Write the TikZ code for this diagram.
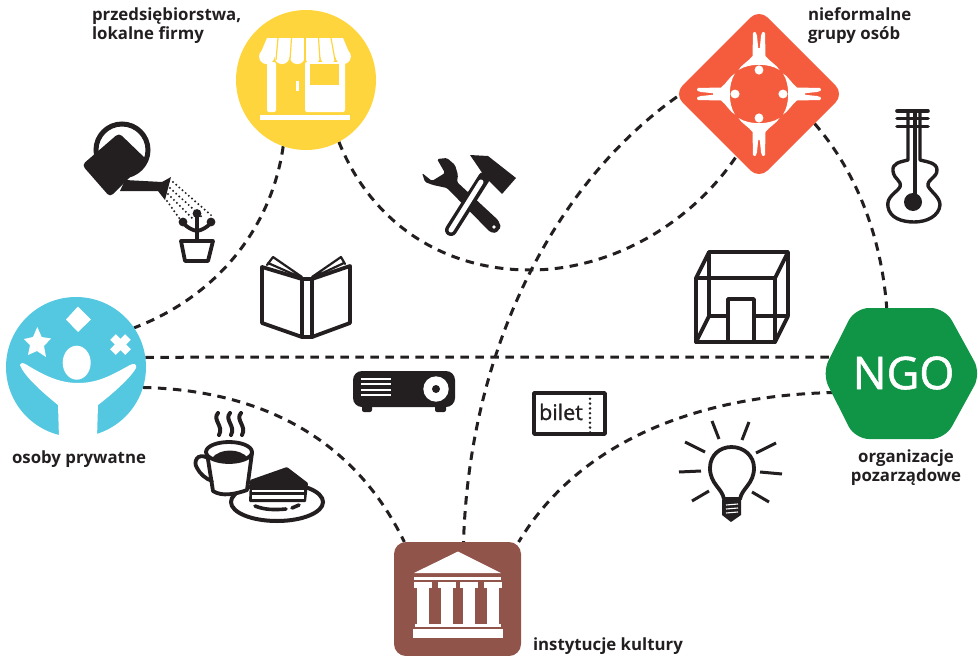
\documentclass[tikz,border=0pt]{standalone}
\usepackage{fontspec}
\setmainfont{Open Sans}
\usetikzlibrary{shapes.geometric}
\pgfdeclarelayer{links}
\pgfsetlayers{links,main}
\definecolor{ink}{HTML}{231F20}
\definecolor{cfirm}{HTML}{FFD53D}
\definecolor{cgrupy}{HTML}{F45C3D}
\definecolor{cosoby}{HTML}{55C8E1}
\definecolor{cngo}{HTML}{109445}
\definecolor{ckult}{HTML}{91544A}
\tikzset{
  hub/.style={inner sep=0,outer sep=0,draw=none},
  link/.style={draw=ink,line width=3pt,dash pattern=on 8.5pt off 6.5pt},
  lbl/.style={font=\fontsize{16.8}{19}\selectfont\bfseries,text=ink,inner sep=0,outer sep=0},
  ic/.style={draw=ink,line width=3.8pt,line join=round,line cap=round},
  bk/.style={fill=ink,draw=none},
  wh/.style={fill=white,draw=none}
}
\begin{document}
\begin{tikzpicture}[x=1pt,y=-1pt]
\useasboundingbox (0,0) rectangle (978,656);
% hubs
\node[hub,circle,fill=cfirm,minimum size=140pt] (firm) at (306,80) {};
\node[hub,circle,fill=cosoby,minimum size=140pt] (osoby) at (76,367) {};
\node[hub,diamond,aspect=1,fill=cgrupy,rounded corners=12pt,minimum size=170pt] (grupy) at (759,94) {};
\node[hub,rectangle,fill=ckult,rounded corners=12pt,minimum width=127pt,minimum height=114pt] (kult) at (457.5,599) {};
\fill[cngo,rounded corners=14pt] (822,373.5) -- (855,308) -- (945,308) -- (981,373.5) -- (945,439) -- (855,439) -- cycle;
\coordinate (ngoN) at (887,312);
\coordinate (ngoA) at (835,357);
\coordinate (ngoB) at (835,392.5);
\node[inner sep=0,outer sep=0,text=white,font=\fontsize{45}{45}\selectfont\addfontfeature{FakeBold=1.2}] (ngo) at (903.5,373) {NGO};
% connectors
\begin{pgfonlayer}{links}
\draw[link] (firm.251) .. controls (272,225) and (220,295) .. (osoby.34);
\draw[link] (firm.298) .. controls (370,220) and (440,270) .. (530,270) .. controls (610,270) and (690,225) .. (grupy.250);
\draw[link] (grupy.182) .. controls (560,180) and (470,340) .. (kult.84.5);
\draw[link] (grupy.332) .. controls (855,170) and (882,235) .. (ngoN);
\draw[link] (osoby.8.2) -- (ngoA);
\draw[link] (osoby.-17) .. controls (250,390) and (350,430) .. (kult.133.7);
\draw[link] (ngoB) .. controls (700,395) and (580,440) .. (kult.43.3);
\end{pgfonlayer}
% shop icon
\fill[white] (267,38) -- (343,38) -- (351,57) -- (259,57) -- cycle;
\foreach \i in {0,...,5} {\fill[white] ({266.7+15.3*\i},56.5) circle[radius=7.6];}
\foreach \a/\b in {278/276,291.5/290,305/305,318.5/320,331/335} {\draw[cfirm,line width=1.2pt] (\a,38) -- (\b,60);}
\fill[white,rounded corners=2pt] (267,62) -- (276,62) -- (276,112) -- (267,112) -- cycle;
\fill[white,rounded corners=2pt] (305,62) -- (345,62) -- (345,112) -- (305,112) -- cycle;
\fill[cfirm] (310,64) rectangle (339,85);
\fill[white] (296,81) rectangle (299.3,91);
\fill[white] (260,115) rectangle (350,120);
% watering can
\draw[ink,line width=5pt] (122,150) circle[radius=26];
\fill[ink,rounded corners=4pt] (119,133) -- (147,160) -- (110,197) -- (82,165) -- cycle;
\fill[ink] (125,180) -- (162,182) -- (171,177) -- (165,200) -- (158,191) -- (120,191) -- cycle;
\foreach \a/\b/\c/\d in {173/182/212/216,170/188/203/218,168/194/194/220,167/201/182/222} {\draw[ink,line width=2.2pt,line cap=round,dash pattern=on 0pt off 4.2pt] (\a,\b) -- (\c,\d);}
% plant
\draw[ic] (181,241) -- (213,241) -- (208,261) -- (185,261) -- cycle;
\draw[ic] (197,213) -- (197,240);
\draw[ic] (183,223) .. controls (188,228) and (192,230) .. (197,231) .. controls (202,230) and (206,228) .. (211,223);
\fill[ink] (183,222) circle[radius=4.4] (197,213.5) circle[radius=4.4] (211,222) circle[radius=4.4];
% book
\draw[ic] (262,267) -- (302,279) -- (302,337) -- (262,323) -- cycle;
\draw[ic] (350,266) -- (312,279) -- (312,337) -- (350,323) -- cycle;
\draw[ic] (302,279) -- (312,279) (302,337) -- (312,337);
\draw[ic,line width=2.2pt] (267,265) -- (273,257) -- (302,277) (268,263) -- (302,278) (345,264) -- (341,257) -- (312,277) (344,263) -- (312,278);
% osoby icon
\fill[white] (20,365) .. controls (21,362) and (24,363) .. (27,365) .. controls (45,376) and (60,383) .. (78,383) .. controls (98,383) and (112,375) .. (130,365) .. controls (134,363) and (137,364) .. (136,368) .. controls (132,376) and (115,392) .. (98,405) -- (97,438) -- (59,438) -- (58,405) .. controls (42,392) and (24,376) .. (20,365) -- cycle;
\fill[white] (76.7,362.7) ellipse[x radius=14,y radius=17];
\fill[white] (78,306.5) -- (91,319.5) -- (78,332) -- (66,319.5) -- cycle;
\fill[white] (37.3,327) -- (41.7,337) -- (51,338.5) -- (44,346) -- (46,357) -- (37,351) -- (28,355) -- (30,345) -- (24,339) -- (33,337) -- cycle;
\draw[white,line width=8pt] (113,337) -- (128,352) (128,337) -- (113,352);
% coffee and cake
\draw[ink,line width=4pt,fill=white] (277,502) ellipse[x radius=46,y radius=19];
\draw[ink,line width=3.6pt,line cap=round] (255,506) .. controls (265,510) and (275,510) .. (286,509);
\draw[ink,line width=3.6pt,line cap=round] (292,508) -- (299,505);
\fill[ink,rounded corners=1pt] (250,480) -- (287,467) -- (308,483) -- (306,502) -- (249,502) -- cycle;
\fill[white] (252,489.5) rectangle (304,492);
\fill[white] (252,495) rectangle (304,499);
\draw[ink,line width=3.8pt,fill=white,line join=round] (207,453) -- (213,491) .. controls (222,497) and (236,494) .. (247,490) -- (252,453) -- cycle;
\draw[ink,line width=3.8pt,fill=white] (229,452) ellipse[x radius=23,y radius=10];
\fill[ink] (212,458) .. controls (220,448) and (240,448) .. (248,458) .. controls (240,462) and (220,462) .. (212,458) -- cycle;
\draw[ink,line width=3.8pt,line cap=round] (208,458) .. controls (197,452) and (193,462) .. (197,468) .. controls (200,474) and (206,479) .. (212,481);
\foreach \s in {218,230,241} {\draw[ink,line width=4pt,line cap=round] (\s,413) .. controls ({\s-6},420) and ({\s+6},426) .. ({\s+1},435);}
% tools
\fill[ink,rounded corners=1.5pt] (437,159) -- (445,173) -- (432,181) -- (422,173) -- (425,182) -- (433,185) -- (447,188) -- (490,232) -- (496,233) -- (501,227) -- (498,220) -- (457,182) -- (458,175) -- (455,165) -- (447,158) -- cycle;
\fill[white] (494,227) circle[radius=1.8];
\draw[ink,line width=12pt,line cap=round] (484,178) -- (451,230);
\draw[white,line width=5pt,line cap=round] (481,182) -- (451,230);
\fill[ink] (470,155) -- (488,156) -- (516,178) -- (502,194) -- (485,177) -- cycle;
% glass box
\draw[ic] (709,252) rectangle (788,316);
\draw[ic] (696,278) rectangle (775,342);
\draw[ic] (696,278) -- (709,252) (775,278) -- (788,252) (696,342) -- (709,316) (775,342) -- (788,316);
\draw[ic,fill=white] (754,342) -- (754,299) -- (728,299) -- (728,342);
\draw[ic] (696,342) -- (775,342);
% guitar
\draw[ink,line width=3.6pt,line cap=round] (897,111) -- (928,111) (897,118.5) -- (928,118.5) (897,126.5) -- (928,126.5);
\draw[ink,line width=3.4pt,line join=round] (908,111) -- (908,160) .. controls (900,162) and (892,163) .. (893,171) .. controls (894,180) and (902,180) .. (900,187) .. controls (896,193) and (886,197) .. (888,207) .. controls (890,218) and (902,222) .. (914,222) .. controls (927,222) and (939,216) .. (940,205) .. controls (940,197) and (931,192) .. (928,186) .. controls (927,179) and (937,178) .. (937,170) .. controls (937,163) and (928,162) .. (920,160) -- (920,111);
\draw[ink,line width=3.2pt] (915,111) -- (915,200);
\fill[ink] (913,202) circle[radius=9];
% projector
\fill[ink,rounded corners=2pt] (362,403) rectangle (372,412);
\fill[ink,rounded corners=2pt] (435,403) rectangle (446,412);
\fill[ink,rounded corners=9pt] (353,371) rectangle (455,407);
\fill[white] (436,389) circle[radius=12.7];
\fill[ink] (436,389) circle[radius=4];
\foreach \v in {379,384,389.5,394.5} {\draw[white,line width=2pt] (361,\v) -- (391,\v);}
% ticket
\draw[ink,line width=3.6pt,line join=round] (534,393) rectangle (605,434);
\draw[ink,line width=2.8pt,line cap=round,dash pattern=on 0pt off 4.8pt] (590,394) -- (590,433);
\node[inner sep=0,outer sep=0,text=ink,anchor=base,font=\fontsize{21.5}{21.5}\selectfont\addfontfeature{FakeBold=1.2}] (bilet) at (561,420) {bilet};
% bulb
\draw[ic,line width=3.8pt] (724,499) .. controls (722,488) and (710,484) .. (710,468) .. controls (710,455) and (720,447) .. (731.5,447) .. controls (744,447) and (754,456) .. (754,468) .. controls (754,484) and (742,488) .. (740,499) -- cycle;
\fill[ink] (722,500) -- (741,500) -- (741,515) -- (731,522) -- (722,515) -- cycle;
\draw[white,line width=1.1pt] (726,505) -- (738,504) (726,509) -- (738,508) (726,513) -- (738,512);
\foreach \a/\b/\c/\d in {712/421/719/439,749/422/742/440,685/442/705/452,776/443/756/453,679/472/701/471,782/474/760/472,692/501/709/491,769/502/752/492} {\draw[ink,line width=3pt] (\a,\b) -- (\c,\d);}
% people in the diamond
\foreach \r in {0,90,180,270} {
\begin{scope}[rotate around={\r:(759,94)},shift={(759,94)}]
\fill[white] (-6,-61) .. controls (-4,-63) and (-3,-62) .. (-2,-58) -- (-0.8,-46) -- (0.8,-46) -- (2,-58) .. controls (3,-62) and (4,-63) .. (6,-61) -- (6.5,-38) .. controls (10,-33) and (18,-29) .. (20.5,-24) .. controls (10,-31) and (-10,-31) .. (-20.5,-24) .. controls (-18,-29) and (-10,-33) .. (-6.5,-38) -- cycle;
\fill[white] (0,-24) ellipse[x radius=4.4,y radius=4.6];
\end{scope}
}
% temple
\fill[white] (414,573) -- (458,551.5) -- (501,573) -- cycle;
\fill[white] (414,576.5) rectangle (501,580);
\foreach \a/\b/\c/\d in {414/432/417/429,438/456/441/453,460/478/463/475,484/502/487/499} {
  \fill[white] (\a,582) rectangle (\b,588);
  \fill[white] (\c,588) rectangle (\d,624);
}
\fill[white] (415,624) rectangle (501,627);
\fill[white] (413,629) rectangle (503,638);
% labels
\node[lbl,anchor=base west] (l1) at (92,20) {przedsiębiorstwa,};
\node[lbl,anchor=base west] (l2) at (92,39) {lokalne firmy};
\node[lbl,anchor=base west] (l3) at (808,20) {nieformalne};
\node[lbl,anchor=base west] (l4) at (808,39) {grupy osób};
\node[lbl,anchor=base] (l5) at (79,463) {osoby prywatne};
\node[lbl,anchor=base] (l6) at (906,462) {organizacje};
\node[lbl,anchor=base] (l7) at (906,481) {pozarządowe};
\node[lbl,anchor=base west] (l8) at (533,650) {instytucje kultury};
\end{tikzpicture}
\end{document}
